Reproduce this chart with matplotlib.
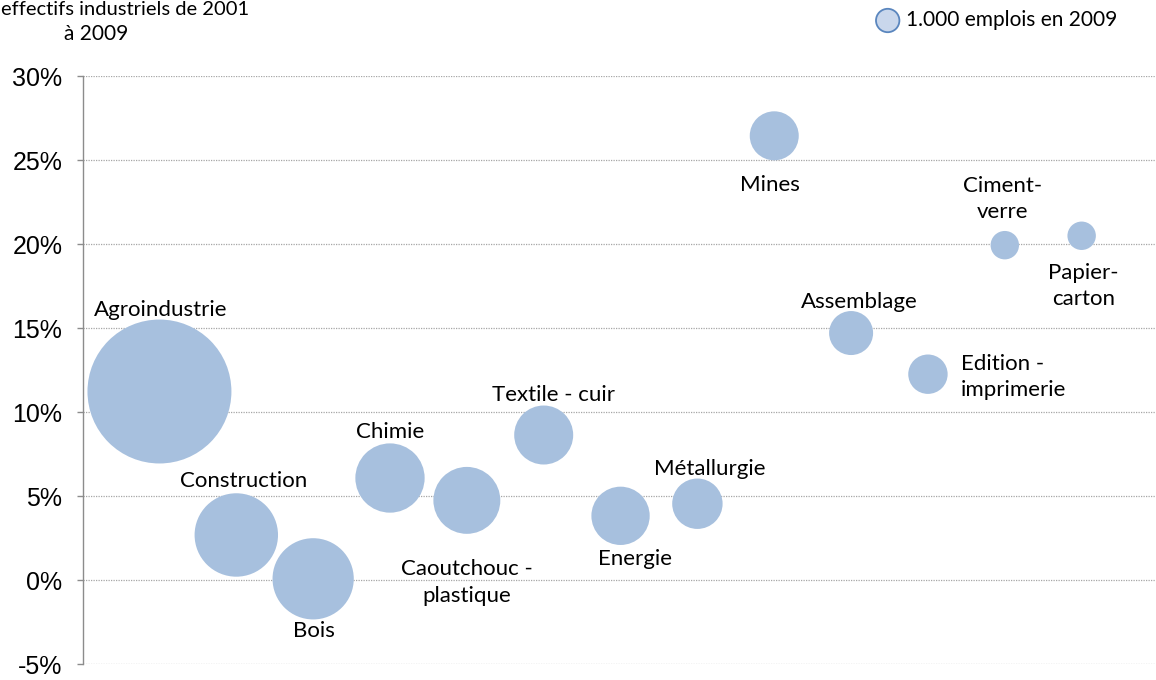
import matplotlib
matplotlib.use("Agg")
import matplotlib.pyplot as plt
from matplotlib.ticker import FuncFormatter

# ---- data ----
secteurs = ["Agroindustrie", "Construction", "Bois", "Chimie", "Caoutchouc -\nplastique",
            "Textile - cuir", "Energie", "Métallurgie", "Mines", "Assemblage",
            "Edition -\nimprimerie", "Ciment-\nverre", "Papier-\ncarton"]
rang = list(range(1, 14))
croissance = [11.22, 2.68, 0.07, 6.07, 4.74, 8.63, 3.82, 4.54, 26.44, 14.70, 12.25, 19.93, 20.49]
emplois_milliers = [51.8, 17.4, 16.5, 12.0, 11.2, 8.7, 8.5, 6.35, 6.0, 4.84, 3.88, 2.02, 2.02]
yticks = [-5, 0, 5, 10, 15, 20, 25, 30]
titre_l1 = "effectifs industriels de 2001"
titre_l2 = "à 2009"
legende = "1.000 emplois en 2009"

# label placement (offset in pixels from bubble centre, alignment)
label_dx = [1.5, 7, 1, 0, 0, 10, 14, 12, -4, 8, 33, -2, 2]
label_dy = [-82, -54, 52, -46, 82, -40, 43, -35, 49, -31, 3, -46, 50]
label_ha = ["center"] * 10 + ["left", "center", "center"]

W, H = 1156, 680
fig = plt.figure(figsize=(W / 100, H / 100), dpi=100)
LAB = ["Lato", "DejaVu Sans"]

x0_px, step_px = 82.6, 76.85
left = 82.6 / W
top_px, bot_px = 76, 664
ax = fig.add_axes([left, (H - bot_px) / H, 1 - left, (bot_px - top_px) / H])
ax.set_xlim(0, (W - x0_px) / step_px)
ax.set_ylim(-5, 30)

bubble_color = "#A7C0DE"
px2pt = 0.72
sizes = [(2 * px2pt * 10 * (e ** 0.5)) ** 2 for e in emplois_milliers]
ax.scatter(rang, croissance, s=sizes, color=bubble_color, edgecolors="none", zorder=3)

for i, lab in enumerate(secteurs):
    ax.annotate(lab, (rang[i], croissance[i]),
                xytext=(label_dx[i] * px2pt, -label_dy[i] * px2pt), textcoords="offset points",
                ha=label_ha[i], va="center", multialignment=label_ha[i],
                fontsize=16, family=LAB, color="#000000", zorder=4, linespacing=1.4)

# grid
ax.set_yticks(yticks)
ax.yaxis.set_major_formatter(FuncFormatter(lambda v, p: f"{int(v)}%"))
ax.grid(axis="y", color="#a6a6a6", linestyle=(0, (1, 1)), linewidth=0.9, zorder=0)
ax.set_xticks([])
for s in ["top", "right", "bottom"]:
    ax.spines[s].set_visible(False)
ax.spines["left"].set_color("#8c8c8c")
ax.spines["left"].set_linewidth(1.0)
ax.tick_params(axis="y", length=4.5, width=1.0, color="#8c8c8c", pad=10,
               labelsize=18, labelfontfamily="Liberation Sans")

# title (top-left)
fig.text(1 / W, 1 - 1 / H, titre_l1, ha="left", va="top", fontsize=14.5, family=LAB)
fig.text(96 / W, 1 - 34 / H, titre_l2, ha="center", va="center", fontsize=15, family=LAB)

# legend bubble
fig.add_artist(matplotlib.patches.Ellipse((887.7 / W, 1 - 20.5 / H), 23.4 / W, 23.4 / H,
                                          transform=fig.transFigure, facecolor="#C9D7EC",
                                          edgecolor="#5A86BE", linewidth=1.3))
fig.text(906 / W, 1 - 20.5 / H, legende, ha="left", va="center",
         fontsize=15, family=LAB)

fig.savefig("out.png", dpi=100)
